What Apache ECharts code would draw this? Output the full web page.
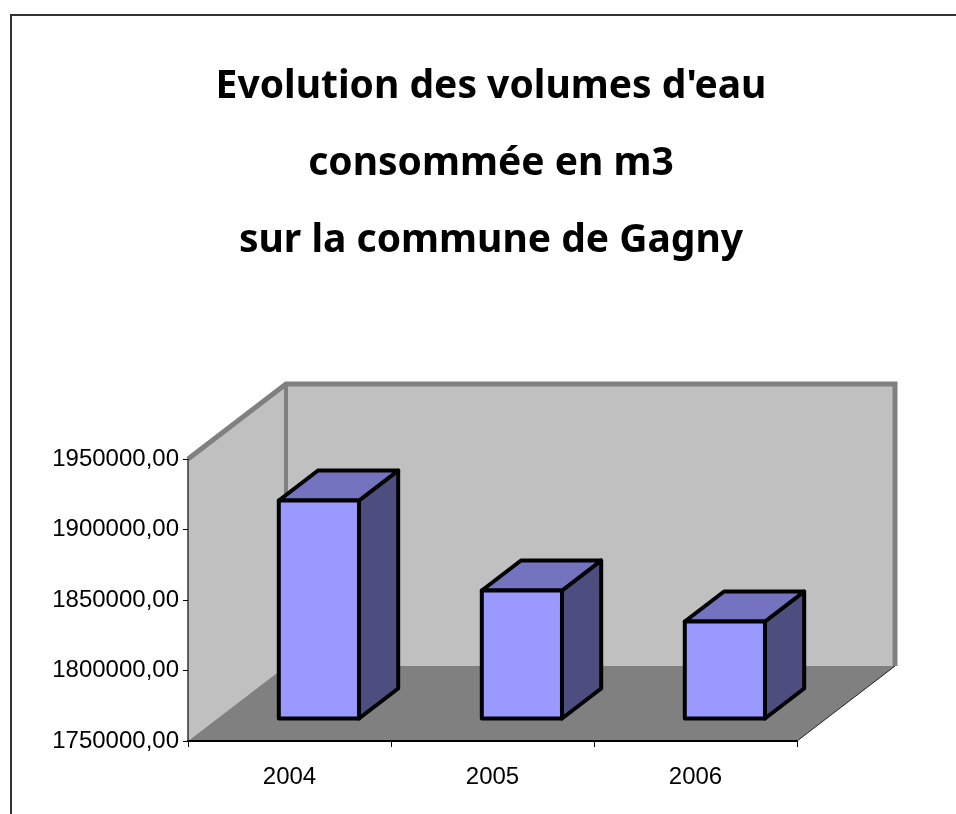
<!DOCTYPE html>
<html>
<head>
<meta charset="utf-8">
<title>Evolution des volumes d'eau consommée - Gagny</title>
<script src="https://cdn.jsdelivr.net/npm/echarts@6/dist/echarts.min.js"></script>
<style>
  html, body { margin: 0; padding: 0; background: #fff; }
  #chart { width: 956px; height: 814px; }
</style>
</head>
<body>
<div id="chart"></div>
<script>
// données
const years = ['2004', '2005', '2006']
const volumes = [1904600, 1840800, 1818800]
const titleLines = ["Evolution des volumes d'eau", 'consommée en m3', 'sur la commune de Gagny']

const Y_MIN = 1750000
const Y_MAX = 1950000
const Y_STEP = 50000

// profondeur de la perspective (px) : décalage du fond par rapport au plan avant
const DEPTH_X = 98
const DEPTH_Y = -75

const chart = echarts.init(document.getElementById('chart'))

// murs + sol façon Excel 3D
function renderWalls(params, api) {
  const r = params.coordSys
  const x = r.x, y = r.y, w = r.width, h = r.height
  const dx = DEPTH_X, dy = DEPTH_Y
  return {
    type: 'group',
    children: [
      {
        type: 'polygon',
        shape: { points: [[x, y + h], [x, y], [x + dx, y + dy], [x + dx, y + h + dy]] },
        style: { fill: '#c0c0c0' },
      },
      {
        type: 'rect',
        shape: { x: x + dx, y: y + dy, width: w, height: h },
        style: { fill: '#c0c0c0' },
      },
      {
        type: 'polygon',
        shape: { points: [[x, y + h], [x + dx, y + h + dy], [x + w + dx, y + h + dy], [x + w, y + h]] },
        style: { fill: '#808080' },
      },
      {
        type: 'polyline',
        shape: { points: [[x, y], [x + dx, y + dy], [x + w + dx, y + dy], [x + w + dx, y + h + dy]] },
        style: { stroke: '#808080', lineWidth: 5, fill: null, lineJoin: 'miter' },
      },
      {
        type: 'line',
        shape: { x1: x + dx, y1: y + dy, x2: x + dx, y2: y + h + dy },
        style: { stroke: '#808080', lineWidth: 4 },
      },
      {
        type: 'line',
        shape: { x1: x + w, y1: y + h, x2: x + w + dx, y2: y + h + dy },
        style: { stroke: '#222', lineWidth: 1 },
      },
    ],
  }
}

// barre en volume : face avant, dessus, côté
function renderBar(params, api) {
  const idx = api.value(0)
  const top = api.coord([idx, api.value(1)])
  const base = api.coord([idx, Y_MIN])
  const band = api.size([1, 0])[0]
  const w = band * 0.395
  const ox = DEPTH_X * 0.3, oy = DEPTH_Y * 0.3
  const bx = DEPTH_X * 0.4, by = DEPTH_Y * 0.4
  const x0 = top[0] - w / 2 + ox
  const x1 = x0 + w
  const yT = top[1] + oy
  const yB = base[1] + oy
  const line = { stroke: '#000', lineWidth: 4, lineJoin: 'round' }
  return {
    type: 'group',
    children: [
      {
        type: 'polygon',
        shape: { points: [[x1, yT], [x1 + bx, yT + by], [x1 + bx, yB + by], [x1, yB]] },
        style: Object.assign({ fill: '#4d4d80' }, line),
      },
      {
        type: 'polygon',
        shape: { points: [[x0, yT], [x1, yT], [x1 + bx, yT + by], [x0 + bx, yT + by]] },
        style: Object.assign({ fill: '#7373bf' }, line),
      },
      {
        type: 'rect',
        shape: { x: x0, y: yT, width: w, height: yB - yT },
        style: Object.assign({ fill: '#9999ff' }, line),
      },
    ],
  }
}

const labelFont = {
  color: '#000',
  fontFamily: 'Liberation Sans',
  fontSize: 24,
}

chart.setOption({
  animation: false,
  backgroundColor: '#fff',
  graphic: [
    {
      type: 'rect',
      shape: { x: 11, y: 15, width: 1000, height: 900 },
      style: { fill: null, stroke: '#333', lineWidth: 2 },
      silent: true,
    },
    {
      type: 'text',
      x: 491,
      y: 48,
      style: {
        text: titleLines.join('\n'),
        fill: '#000',
        font: 'bold 39px "Noto Sans"',
        lineHeight: 77,
        align: 'center',
        verticalAlign: 'top',
      },
    },
  ],
  grid: {
    left: 188,
    right: 159,
    top: 459,
    bottom: 73,
  },
  xAxis: {
    type: 'category',
    data: years,
    z: 5,
    axisLine: { show: true, lineStyle: { color: '#000', width: 2 } },
    axisTick: { show: true, length: 6, lineStyle: { color: '#000', width: 1 } },
    axisLabel: Object.assign({ margin: 24 }, labelFont),
    splitLine: { show: false },
  },
  yAxis: {
    type: 'value',
    min: Y_MIN,
    max: Y_MAX,
    interval: Y_STEP,
    z: 5,
    axisLine: { show: true, lineStyle: { color: '#333', width: 1.5 } },
    axisTick: { show: true, length: 5, lineStyle: { color: '#000', width: 1 } },
    axisLabel: Object.assign({
      margin: 9,
      formatter: (v) => v.toFixed(2).replace('.', ','),
    }, labelFont),
    splitLine: { show: false },
  },
  series: [
    {
      name: 'walls',
      type: 'custom',
      renderItem: renderWalls,
      data: [[0, Y_MIN]],
      clip: false,
      silent: true,
      z: 1,
    },
    {
      name: 'Volume (m3)',
      type: 'custom',
      renderItem: renderBar,
      data: years.map((y, i) => [i, volumes[i]]),
      clip: false,
      z: 3,
    },
  ],
})
</script>
</body>
</html>
